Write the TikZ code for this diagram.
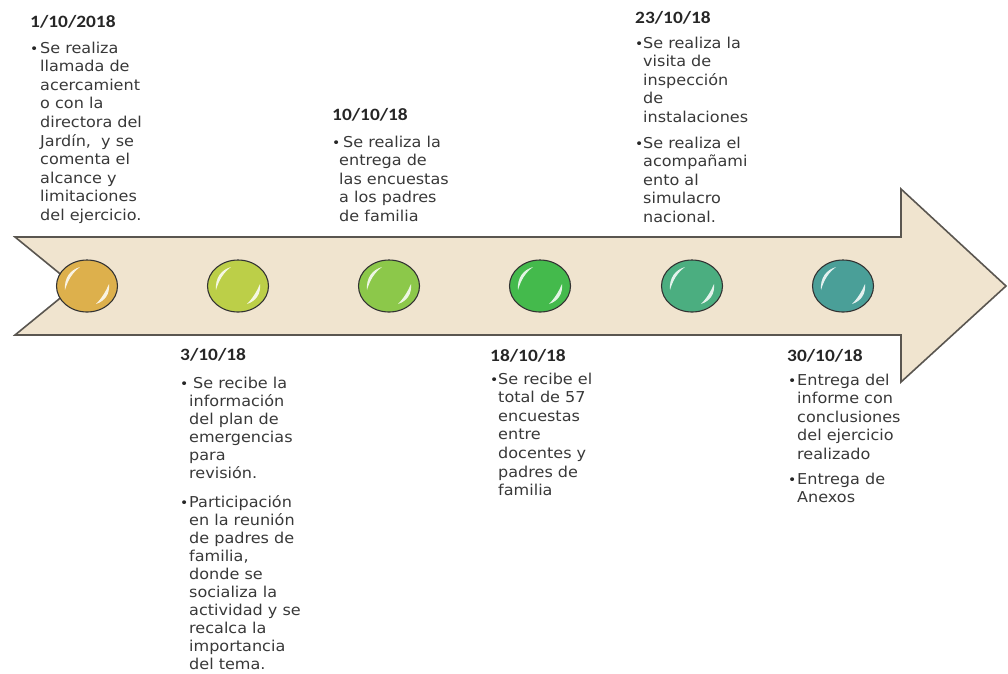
\documentclass[tikz,border=0pt]{standalone}
\usepackage{fontspec}
\usetikzlibrary{shapes.geometric}
\newfontfamily\bodyf[FakeStretch=1.07]{DejaVu Sans}
\newfontfamily\datef[FakeStretch=1.12,BoldFeatures={FakeStretch=1.12}]{Carlito}
\definecolor{arrowfill}{HTML}{F0E4CF}
\definecolor{arrowline}{HTML}{5A5650}
\definecolor{cA}{HTML}{DDB04C}
\definecolor{cB}{HTML}{BCCF48}
\definecolor{cC}{HTML}{8CC84A}
\definecolor{cD}{HTML}{44BA4C}
\definecolor{cE}{HTML}{4BAE80}
\definecolor{cF}{HTML}{4A9F98}
\newcommand\tllines[1]{\parbox[t]{170pt}{\raggedright #1}}
\tikzset{
  datetxt/.style={anchor=base west, inner sep=0pt, font={\datef\bfseries\fontsize{17.3}{20}\selectfont}, text=black!85},
  bodytxt/.style={anchor=base west, inner sep=0pt, font={\bodyf\fontsize{15}{18.6}\selectfont}, text=black!78},
  tightbody/.style={bodytxt, font={\bodyf\fontsize{15}{18}\selectfont}},
  bul/.style={anchor=base west, inner sep=0pt, font={\bodyf\fontsize{13}{14}\selectfont}, text=black!85},
  ball/.style={ellipse, draw=black!80, line width=1.1pt, minimum width=61pt, minimum height=52pt, inner sep=0pt},
  hl/.style={fill=white, opacity=0.85},
  arrowbody/.style={fill=arrowfill, draw=arrowline, line width=1.6pt, line join=miter}
}
\begin{document}
\begin{tikzpicture}[x=1pt,y=-1pt]
\useasboundingbox (0,0) rectangle (1008,673);
% main arrow
\draw[arrowbody] (15,237) -- (901,237) -- (901,189) -- (1006,286) -- (901,382) -- (901,335) -- (15,335) -- (75,286) -- cycle;
% balls
\foreach \n/\x/\c in {1/87/cA,2/238/cB,3/389/cC,4/540/cD,5/692/cE,6/843/cF}{
  \node[ball, fill=\c] (ball\n) at (\x,286) {};
  \begin{scope}[shift={(ball\n.center)}]
    \fill[hl] (-22,4) .. controls (-23,-8) and (-17,-16) .. (-7,-19) .. controls (-15,-13) and (-19,-6) .. (-22,4) -- cycle;
    \fill[hl] (22,-2) .. controls (23,8) and (18,15) .. (9,18) .. controls (15,12) and (19,5) .. (22,-2) -- cycle;
  \end{scope}
}
% 1/10/2018
\node[datetxt] (d1) at (30,27) {1/10/2018};
\node[bul] (u1) at (30,53) {•};
\node[bodytxt] (t1) at (40,53) {\tllines{Se realiza\\llamada de\\acercamient\\o con la\\directora del\\Jardín,\ \ y se\\comenta el\\alcance y\\limitaciones\\del ejercicio.}};
% 3/10/18
\node[datetxt] (d2) at (180,360) {3/10/18};
\node[bul] (u2a) at (180,388) {•};
\node[tightbody] (t2a) at (189,388) {\tllines{\hspace*{4pt}Se recibe la\\información\\del plan de\\emergencias\\para\\revisión.}};
\node[bul] (u2b) at (180,507) {•};
\node[tightbody] (t2b) at (189,507) {\tllines{Participación\\en la reunión\\de padres de\\familia,\\donde se\\socializa la\\actividad y se\\recalca la\\importancia\\del tema.}};
% 10/10/18
\node[datetxt] (d3) at (332,120) {10/10/18};
\node[bul] (u3) at (332,147) {•};
\node[bodytxt] (t3) at (339,147) {\tllines{\hspace*{4pt}Se realiza la\\entrega de\\las encuestas\\a los padres\\de familia}};
% 18/10/18
\node[datetxt] (d4) at (490,361) {18/10/18};
\node[bul] (u4) at (490,384) {•};
\node[bodytxt] (t4) at (498,384) {\tllines{Se recibe el\\total de 57\\encuestas\\entre\\docentes y\\padres de\\familia}};
% 23/10/18
\node[datetxt] (d5) at (635,23) {23/10/18};
\node[bul] (u5a) at (635,48) {•};
\node[bodytxt] (t5a) at (643,48) {\tllines{Se realiza la\\visita de\\inspección\\de\\instalaciones}};
\node[bul] (u5b) at (635,148) {•};
\node[bodytxt] (t5b) at (643,148) {\tllines{Se realiza el\\acompañami\\ento al\\simulacro\\nacional.}};
% 30/10/18
\node[datetxt] (d6) at (787,361) {30/10/18};
\node[bul] (u6a) at (788,385) {•};
\node[bodytxt] (t6a) at (797,385) {\tllines{Entrega del\\informe con\\conclusiones\\del ejercicio\\realizado}};
\node[bul] (u6b) at (788,484) {•};
\node[bodytxt] (t6b) at (797,484) {\tllines{Entrega de\\Anexos}};
\end{tikzpicture}
\end{document}
